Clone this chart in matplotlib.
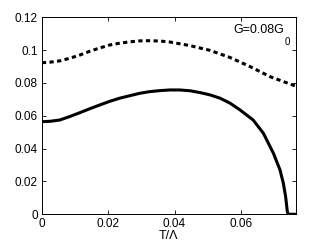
import matplotlib
matplotlib.use('Agg')
import matplotlib.pyplot as plt
from matplotlib.ticker import FuncFormatter

plt.rcParams['font.family'] = ['Liberation Sans', 'DejaVu Sans']

# values
t_dash = [0.0, 0.0024, 0.0054, 0.0084, 0.0115, 0.0145, 0.0175, 0.0205, 0.0235, 0.0265,
          0.0296, 0.0326, 0.0356, 0.0386, 0.0447, 0.0507, 0.0567, 0.0627, 0.0688, 0.0766]
g_dash = [0.0923, 0.0926, 0.0934, 0.0950, 0.0970, 0.0993, 0.1013, 0.1031, 0.1042, 0.1050,
          0.1056, 0.1057, 0.1055, 0.1049, 0.1027, 0.0998, 0.0955, 0.0900, 0.0838, 0.0780]

t_solid = [0.0, 0.0024, 0.0054, 0.0084, 0.0115, 0.0145, 0.0175, 0.0205, 0.0235, 0.0265,
           0.0296, 0.0326, 0.0356, 0.0386, 0.0416, 0.0447, 0.0477, 0.0507, 0.0537, 0.0567,
           0.0597, 0.0637, 0.0668, 0.0698, 0.0718, 0.0728, 0.0735, 0.0740, 0.0743, 0.0766]
g_solid = [0.0564, 0.0566, 0.0574, 0.0595, 0.0619, 0.0643, 0.0666, 0.0688, 0.0707, 0.0722,
           0.0737, 0.0747, 0.0753, 0.0757, 0.0757, 0.0752, 0.0741, 0.0727, 0.0707, 0.0677,
           0.0636, 0.0574, 0.0493, 0.0372, 0.0270, 0.0189, 0.0107, 0.0016, 0.0, 0.0]

xticks = [0, 0.02, 0.04, 0.06]
yticks = [0, 0.02, 0.04, 0.06, 0.08, 0.1, 0.12]

fig = plt.figure(figsize=(3.27, 2.46), dpi=100)
ax = fig.add_axes([0.128, 0.129, 0.777, 0.801])

ax.plot(t_solid, g_solid, 'k-', lw=2.2, solid_joinstyle='round')
ax.plot(t_dash, g_dash, 'k', lw=2.2, dashes=(1.4, 1.1))

ax.set_xlim(0, 0.0766)
ax.set_ylim(0, 0.12)
ax.set_xticks(xticks)
ax.set_yticks(yticks)
fmt = FuncFormatter(lambda v, p: '%g' % round(v, 4))
ax.xaxis.set_major_formatter(fmt)
ax.yaxis.set_major_formatter(fmt)
ax.tick_params(direction='in', top=True, right=True, labelsize=8.5, length=3, width=0.6, pad=3)
for s in ax.spines.values():
    s.set_linewidth(0.7)

ax.set_xlabel('T/Λ', fontsize=9, labelpad=0)

# annotation with a lowered subscript, MATLAB style
fig.text(284 / 327, 1 - 33 / 246, 'G=0.08G', ha='right', va='baseline', fontsize=9)
fig.text(285 / 327, 1 - 45 / 246, '0', ha='left', va='baseline', fontsize=7)

plt.savefig('out.png', dpi=100)
plt.close()
